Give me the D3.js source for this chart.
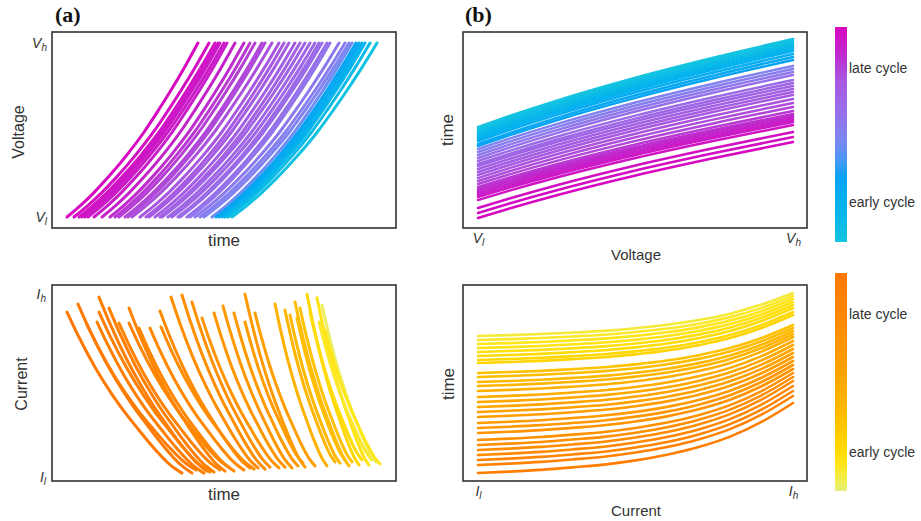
<!DOCTYPE html>
<html>
<head>
<meta charset="utf-8">
<script src="https://cdn.jsdelivr.net/npm/d3@7"></script>
<style>
  body { margin: 0; background: #fff; }
  text { font-family: 'Liberation Sans', Arial, sans-serif; fill: #333; }
  .tag { font-family: 'Liberation Serif', 'Times New Roman', serif; font-weight: bold; font-size: 22px; fill: #111; }
</style>
</head>
<body>
<svg width="921" height="521"></svg>
<script>
// colour maps (0 = early cycle, 1 = late cycle)
const coolStops = [0, 0.15, 0.3, 0.38, 0.47, 0.6, 0.75, 0.88, 1];
const coolColors = ['#14c4e0', '#04b4ec', '#08a4f4', '#4898f8', '#7c88f2', '#9670ea', '#a858e0', '#c028cc', '#d808c0'];
const wistiaStops = [0, 0.06, 0.12, 0.2, 0.3, 0.45, 0.6, 0.8, 1];
const wistiaColors = ['#e6f07a', '#f2ec48', '#ffe61a', '#ffd800', '#ffc400', '#ffae00', '#ff9c00', '#ff8800', '#ff7800'];

// curve profiles: [fraction along x, fraction of rise/fall]
const chargeShape = [[0,0],[0.1,0.064],[0.2,0.136],[0.31,0.225],[0.45,0.35],[0.59,0.49],[0.7,0.616],[0.79,0.724],[0.9,0.864],[1,1]];
const decayShape = [[0,0],[0.1,0.15],[0.25,0.35],[0.4,0.52],[0.5,0.62],[0.6,0.71],[0.75,0.84],[0.9,0.95],[1,1]];
const timeVShape = [[0,0],[0.1,0.125],[0.25,0.3],[0.5,0.56],[0.75,0.79],[1,1]];
const timeIShape = [[0,0],[0.1,0.02],[0.2,0.045],[0.3,0.08],[0.4,0.12],[0.5,0.18],[0.6,0.26],[0.7,0.37],[0.8,0.52],[0.9,0.73],[1,1]];

// (a) top: voltage vs time, time at V_l and at V_h
const vStart = [15,22,27,30,33,36,42,50,58,63,67,73,76,80,88,94,97,103,108,110,116,120,126,128,135,138,143,148,152,160,164,167,170,173,176,180];
const vEnd = [146,157,163,166,168,172,175,183,192,198,203,210,213,220,227,232,237,243,248,253,258,263,267,270,275,278,287,293,297,300,304,307,310,313,318,325];
const vCycle = [1,.98,.96,.95,.94,.93,.92,.9,.87,.84,.82,.8,.79,.77,.75,.74,.72,.71,.7,.68,.67,.66,.64,.63,.6,.58,.55,.52,.5,.45,.3,.25,.2,.15,.08,.02];

// (a) bottom: current vs time, start (time, current) and end (time, current)
const iT0 = [15,26,35,45,47,47,57,67,77,77,87,98,108,109,119,130,140,150,162,171,182,193,193,203,223,233,238,243,245,248,255,258,265,267,270,273];
const iI0 = [.902,.946,.832,.848,.984,.902,.924,.842,.924,.842,.815,.815,.908,.821,.984,.995,.957,.87,.897,.935,.897,1,.848,.897,.946,.913,.886,.957,.87,.924,1,.902,.98,.848,.94,.804];
const iT1 = [130,140,144,152,155,158,162,168,173,178,182,192,198,202,206,213,218,227,233,240,246,253,251,263,275,283,288,297,293,300,307,310,317,320,324,328];
const iI1 = [.023,.023,.04,.023,.034,.029,.029,.04,.034,.051,.034,.04,.051,.045,.051,.045,.056,.051,.056,.051,.062,.056,.078,.062,.062,.084,.078,.062,.095,.084,.067,.095,.067,.095,.084,.073];
const iCycle = [1,.97,.95,.93,.92,.91,.9,.88,.86,.85,.83,.8,.78,.76,.75,.73,.71,.69,.67,.65,.63,.61,.6,.58,.42,.4,.38,.36,.34,.32,.2,.18,.14,.1,.03,.12];

// (b) top: time vs voltage, time at V_l and at V_h
const tvStart = [101,99,97,95,93,91,89,87,84,82,79,76,73,70,67,64,62,59,56,53,50,47,44,41,39,37,35,33,31,28,20,15,10];
const tvEnd = [189,187,185,183,181,179,177,174,171,168,162,159,156,153,148,145,142,139,136,133,129,125,121,117,114,112,110,108,106,103,96,91,86];
const tvCycle = [0,.03,.06,.09,.12,.15,.18,.22,.26,.3,.5,.53,.56,.6,.64,.66,.68,.7,.72,.74,.76,.78,.8,.84,.86,.88,.9,.92,.94,.96,.97,.98,1];

// (b) bottom: time vs current, time at I_l and at I_h
const tiStart = [145,141,137,133,129,125,121,118,108,104,99,95,90,84,79,74,69,64,58,53,48,41,36,31,26,21,16,8];
const tiEnd = [188,185,182,179,176,173,169,166,156,153,150,147,144,140,136,132,128,124,120,116,112,108,104,100,95,90,85,78];
const tiCycle = [.08,.1,.12,.14,.16,.18,.2,.22,.32,.35,.38,.41,.44,.47,.5,.53,.56,.59,.62,.65,.68,.71,.74,.77,.8,.84,.88,.92];

const svg = d3.select('svg');

const coolColor = d3.scaleLinear().domain(coolStops).range(coolColors);
const wistiaColor = d3.scaleLinear().domain(wistiaStops).range(wistiaColors);

const W = 344, H = 196;
const boxes = {
    a1: {x: 52, y: 32}, a2: {x: 52, y: 285},
    b1: {x: 463, y: 32}, b2: {x: 463, y: 285}
};

const timeX = d3.scaleLinear().domain([0, 344]).range([0, W]);
const normX = d3.scaleLinear().domain([-0.0476, 1.0444]).range([0, W]);
const voltY = d3.scaleLinear().domain([-0.063, 1.063]).range([H, 0]);
const currY = d3.scaleLinear().domain([-0.02, 1.05]).range([H, 0]);
const timeY = d3.scaleLinear().domain([0, 196]).range([H, 0]);

const drawPanel = (box, xScale, yScale, curves, color, width) => {
    const g = svg.append('g')
        .attr('transform', `translate(${box.x},${box.y})`);
    const line = d3.line()
        .x(d => xScale(d[0]))
        .y(d => yScale(d[1]))
        .curve(d3.curveMonotoneX);
    g.selectAll('path.curve').data(curves)
        .enter().append('path')
            .attr('class', 'curve')
            .attr('d', d => line(d.points))
            .attr('fill', 'none')
            .attr('stroke', d => color(d.cycle))
            .attr('stroke-width', width)
            .attr('stroke-linecap', 'round');
    g.append('rect')
        .attr('width', W)
        .attr('height', H)
        .attr('fill', 'none')
        .attr('stroke', '#333')
        .attr('stroke-width', 1.6);
    return g;
};

const subTicks = (axisG, base) => {
    axisG.select('.domain').remove();
    axisG.attr('font-family', null).attr('font-size', 14).attr('color', '#333');
    axisG.selectAll('.tick text').text(null).each(function(d) {
        const t = d3.select(this);
        t.append('tspan').attr('font-style', 'italic').text(base);
        t.append('tspan').attr('font-style', 'italic').attr('font-size', 10)
            .attr('dy', '0.3em').text(d ? 'h' : 'l');
    });
};

// (a) top
const a1Curves = vStart.map((s, i) => ({
    cycle: vCycle[i],
    points: chargeShape.map(([f, v]) => [s + f * (vEnd[i] - s), v])
}));
const gA1 = drawPanel(boxes.a1, timeX, voltY, a1Curves, coolColor, 3);
gA1.append('g').call(d3.axisLeft(voltY).tickValues([0, 1]).tickSize(0).tickPadding(5))
    .call(g => subTicks(g, 'V'));

// (a) bottom
const a2Curves = iT0.map((s, i) => ({
    cycle: iCycle[i],
    points: decayShape.map(([f, d]) => [s + f * (iT1[i] - s), iI0[i] - d * (iI0[i] - iI1[i])])
}));
const gA2 = drawPanel(boxes.a2, timeX, currY, a2Curves, wistiaColor, 3);
gA2.append('g').call(d3.axisLeft(currY).tickValues([0, 1]).tickSize(0).tickPadding(6))
    .call(g => subTicks(g, 'I'));

// (b) top
const b1Curves = tvStart.map((s, i) => ({
    cycle: tvCycle[i],
    points: timeVShape.map(([f, r]) => [f, s + r * (tvEnd[i] - s)])
}));
const gB1 = drawPanel(boxes.b1, normX, timeY, b1Curves, coolColor, 2.5);
gB1.append('g').attr('transform', `translate(0,${H})`)
    .call(d3.axisBottom(normX).tickValues([0, 1]).tickSize(0).tickPadding(5))
    .call(g => subTicks(g, 'V'));

// (b) bottom
const b2Curves = tiStart.map((s, i) => ({
    cycle: tiCycle[i],
    points: timeIShape.map(([f, r]) => [f, s + r * (tiEnd[i] - s)])
}));
const gB2 = drawPanel(boxes.b2, normX, timeY, b2Curves, wistiaColor, 2.6);
gB2.append('g').attr('transform', `translate(0,${H})`)
    .call(d3.axisBottom(normX).tickValues([0, 1]).tickSize(0).tickPadding(5))
    .call(g => subTicks(g, 'I'));

// axis titles
const label = (x, y, text, size, rotate) => {
    svg.append('text')
        .attr('transform', `translate(${x},${y})` + (rotate ? ' rotate(-90)' : ''))
        .attr('text-anchor', 'middle')
        .attr('font-size', size)
        .text(text);
};
label(224, 246, 'time', 17);
label(24, 132, 'Voltage', 16, true);
label(224, 500, 'time', 17);
label(27, 384, 'Current', 16, true);
label(636, 260, 'Voltage', 15);
label(453, 130, 'time', 17, true);
label(636, 516, 'Current', 15);
label(454, 384, 'time', 17, true);

svg.append('text').attr('class', 'tag').attr('x', 55).attr('y', 22).text('(a)');
svg.append('text').attr('class', 'tag').attr('x', 465).attr('y', 22).text('(b)');

// colour bars
const defs = svg.append('defs');
const colorBar = (id, stops, colors, y, h, lateY, earlyY) => {
    const grad = defs.append('linearGradient').attr('id', id)
        .attr('x1', 0).attr('y1', 1).attr('x2', 0).attr('y2', 0);
    grad.selectAll('stop').data(stops).enter().append('stop')
        .attr('offset', d => d)
        .attr('stop-color', (d, i) => colors[i]);
    svg.append('rect')
        .attr('x', 835).attr('y', y)
        .attr('width', 12).attr('height', h)
        .attr('fill', `url(#${id})`);
    svg.append('text').attr('x', 849).attr('y', lateY).attr('font-size', 14).text('late cycle');
    svg.append('text').attr('x', 849).attr('y', earlyY).attr('font-size', 14).text('early cycle');
};
colorBar('coolGrad', coolStops, coolColors, 27, 215, 73, 207);
colorBar('wistiaGrad', wistiaStops, wistiaColors, 273, 218, 319, 457);
</script>
</body>
</html>
